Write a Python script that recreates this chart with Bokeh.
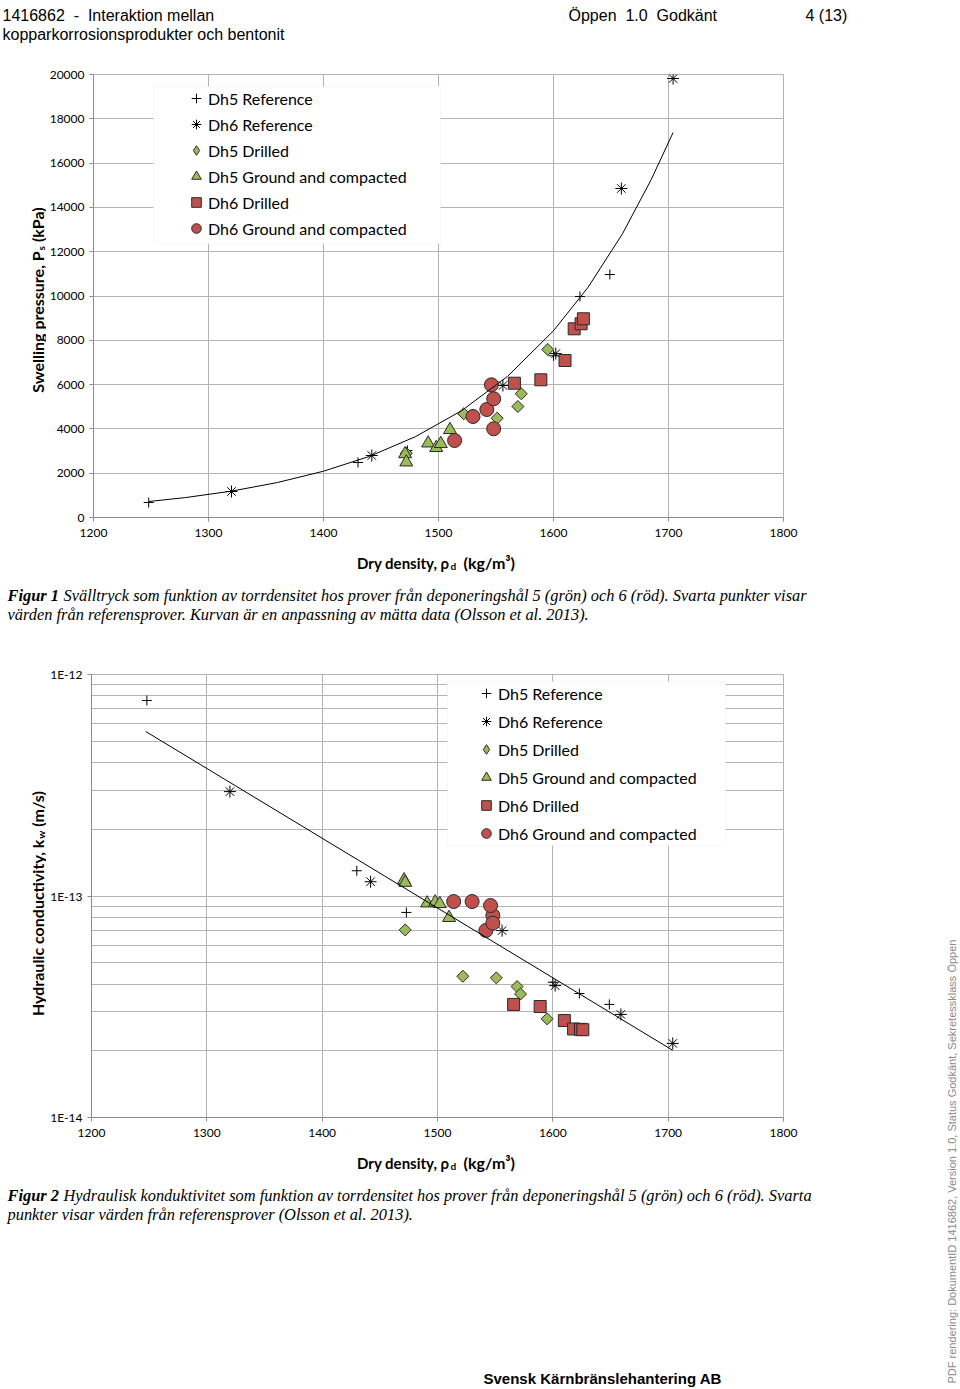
import math
from bokeh.plotting import figure
from bokeh.models import (Range1d, FixedTicker, Label, Legend, LegendItem,
                          BoxAnnotation, CustomJSTickFormatter)
from bokeh.layouts import column, row
from bokeh.embed import file_html
from bokeh.resources import INLINE

# ---------------- data ----------------
x_ticks = [1200, 1300, 1400, 1500, 1600, 1700, 1800]
ps_ticks = [0, 2000, 4000, 6000, 8000, 10000, 12000, 14000, 16000, 18000, 20000]
k_major_ticks = [1e-14, 1e-13, 1e-12]
k_minor_ticks = [2e-14, 3e-14, 4e-14, 5e-14, 6e-14, 7e-14, 8e-14, 9e-14,
                 2e-13, 3e-13, 4e-13, 5e-13, 6e-13, 7e-13, 8e-13, 9e-13]

series_names = ["Dh5 Reference", "Dh6 Reference", "Dh5 Drilled",
                "Dh5 Ground and compacted", "Dh6 Drilled", "Dh6 Ground and compacted"]

dh5_ref_x = [1248, 1430, 1473, 1600, 1623, 1649]
dh5_ref_ps = [677, 2483, 3025, 7300, 9977, 10970]
dh5_ref_k = [7.63e-13, 1.30e-13, 8.43e-14, 4.08e-14, 3.63e-14, 3.24e-14]

dh6_ref_x = [1320, 1442, 1556, 1602, 1659, 1704]
dh6_ref_ps = [1174, 2799, 5959, 7400, 14853, 19819]
dh6_ref_k = [2.96e-13, 1.16e-13, 6.98e-14, 3.94e-14, 2.92e-14, 2.16e-14]

dh5_drilled_x = [1472, 1522, 1551, 1569, 1572, 1595]
dh5_drilled_ps = [2900, 4682, 4483, 5011, 5585, 7585]
dh5_drilled_k = [7.03e-14, 4.34e-14, 4.27e-14, 3.90e-14, 3.61e-14, 2.79e-14]

dh5_gc_x = [1471, 1472, 1491, 1498, 1502, 1510]
dh5_gc_ps = [2867, 2497, 3354, 3147, 3327, 3959]
dh5_gc_k = [1.18e-13, 1.15e-13, 9.28e-14, 9.38e-14, 9.22e-14, 7.98e-14]

dh6_drilled_x = [1566, 1589, 1610, 1618, 1624, 1626]
dh6_drilled_ps = [6063, 6217, 7088, 8519, 8745, 8971]
dh6_drilled_k = [3.24e-14, 3.17e-14, 2.74e-14, 2.51e-14, 2.50e-14, 2.49e-14]

dh6_gc_x = [1514, 1530, 1542, 1548, 1548, 1546]
dh6_gc_ps = [3476, 4560, 4876, 4005, 5359, 5991]
dh6_gc_k = [9.44e-14, 9.44e-14, 6.99e-14, 8.17e-14, 7.54e-14, 9.06e-14]

ps_fit_x = [1248, 1280, 1320, 1360, 1400, 1440, 1480, 1520, 1560, 1600, 1630, 1660, 1685, 1704]
ps_fit = [722, 900, 1190, 1580, 2090, 2760, 3650, 4820, 6370, 8430, 10390, 12810, 15260, 17380]

k_fit_x = [1247, 1704]
k_fit = [5.53e-13, 2.01e-14]

# ---------------- styling ----------------
GRID = "#b4b4b4"
AXIS = "#8c8c8c"
GREEN = "#9BBB59"
RED = "#C0504D"
EDGE = "#2a2a2a"
CAL = "Lato"
LW = 930          # width of the main column
YLW = 46          # width of the y-label strips
NB = "\u00a0"


def text_fig(x0, x1, y0, y1):
    p = figure(width=x1 - x0, height=y1 - y0, output_backend="svg", toolbar_location=None,
               x_range=Range1d(x0, x1), y_range=Range1d(y1, y0), min_border=0,
               x_axis_location=None, y_axis_location=None)
    p.xgrid.visible = False
    p.ygrid.visible = False
    p.outline_line_color = None
    p.background_fill_color = "white"
    p.border_fill_color = "white"
    return p


def put(p, x, y, text, **kw):
    p.add_layout(Label(x=x, y=y, text=text, **kw))


def style(p):
    p.background_fill_color = "white"
    p.border_fill_color = "white"
    p.outline_line_color = GRID
    p.xgrid.grid_line_color = GRID
    p.ygrid.grid_line_color = GRID
    for ax in (p.xaxis, p.yaxis):
        ax.axis_line_color = AXIS
        ax.major_tick_line_color = AXIS
        ax.major_tick_out = 4
        ax.major_tick_in = 0
        ax.minor_tick_line_color = None
        ax.major_label_text_font = CAL
        ax.major_label_text_font_size = "12px"
        ax.major_label_text_color = "#000000"
    p.xaxis.major_label_standoff = 7
    p.yaxis.major_label_standoff = 5


def add_series(p, ys):
    rs = []
    rs.append(p.scatter(dh5_ref_x, ys[0], marker="cross", size=10,
                        line_color="black", line_width=1))
    rs.append(p.scatter(dh6_ref_x, ys[1], marker="asterisk", size=12,
                        line_color="black", line_width=1))
    # key proxy for the legend: an upright diamond hidden under the first data diamond
    rs.append(p.scatter(dh5_drilled_x[:1], ys[2][:1], marker="diamond", size=8,
                        fill_color=GREEN, line_color=EDGE, line_width=1))
    p.scatter(dh5_drilled_x, ys[2], marker="square", angle=math.pi / 4, size=8.5,
              fill_color=GREEN, line_color=EDGE, line_width=1)
    rs.append(p.scatter(dh5_gc_x, ys[3], marker="triangle", size=13,
                        fill_color=GREEN, line_color=EDGE, line_width=1))
    rs.append(p.scatter(dh6_drilled_x, ys[4], marker="square", size=12,
                        fill_color=RED, line_color=EDGE, line_width=1))
    rs.append(p.scatter(dh6_gc_x, ys[5], marker="circle", size=14,
                        fill_color=RED, line_color=EDGE, line_width=1))
    return rs


def add_legend(p, rs, loc, gw, gh):
    items = [LegendItem(label=n, renderers=[r]) for n, r in zip(series_names, rs)]
    lg = Legend(items=items, location=loc, glyph_width=gw, glyph_height=gh,
                label_height=gh, spacing=0, padding=0, margin=0, label_standoff=0,
                label_text_font=CAL, label_text_font_size="16px",
                label_text_color="#000000",
                background_fill_alpha=0, border_line_alpha=0)
    p.add_layout(lg)


def chart(top, bottom, frame_left, frame_top, frame_bottom, y_range, log=False):
    kw = dict(y_axis_type="log") if log else {}
    p = figure(width=LW - YLW, height=bottom - top, output_backend="svg",
               toolbar_location=None, x_range=Range1d(1200, 1800), y_range=y_range,
               min_border_left=frame_left - YLW, min_border_right=LW - 783,
               min_border_top=frame_top - top, min_border_bottom=bottom - frame_bottom, **kw)
    style(p)
    p.xaxis.ticker = FixedTicker(ticks=x_ticks)
    return p


# ---------------- header ----------------
head = text_fig(0, LW, 0, 64)
hdr = dict(text_font="Liberation Sans", text_font_size="16px", text_color="#000000",
           text_baseline="alphabetic")
put(head, 2, 15, "1416862 " + NB + "-" + NB + " Interaktion mellan", **hdr)
put(head, 2, 34, "kopparkorrosionsprodukter och bentonit", **hdr)
put(head, 568, 15, "Öppen" + NB + " 1.0" + NB + " Godkänt", **hdr)
put(head, 805, 15, "4 (13)", **hdr)

axl = dict(text_font=CAL, text_font_style="bold", text_color="#000000",
           text_baseline="alphabetic")
vax = dict(angle=math.pi / 2, **axl)

# ---------------- chart 1 ----------------
F1L, F1B = 93, 517
p1 = chart(64, 545, F1L, 74, F1B, Range1d(0, 20000))
p1.yaxis.ticker = FixedTicker(ticks=ps_ticks)
p1.add_layout(BoxAnnotation(left=153 - F1L, right=440 - F1L, top=F1B - 86, bottom=F1B - 243,
                            left_units="screen", right_units="screen",
                            top_units="screen", bottom_units="screen",
                            fill_color="white", fill_alpha=1.0,
                            line_color="#e6e6e6", line_width=1))
rs1 = add_series(p1, [dh5_ref_ps, dh6_ref_ps, dh5_drilled_ps, dh5_gc_ps,
                      dh6_drilled_ps, dh6_gc_ps])
p1.line(ps_fit_x, ps_fit, line_color="black", line_width=1)
add_legend(p1, rs1, (184 - F1L, F1B - 241), 24, 26)

yl1 = text_fig(0, YLW, 64, 545)
put(yl1, 37, 256, "Swelling pressure, P", text_align="right", text_font_size="16px", **vax)
put(yl1, 40, 255, "s", text_align="left", text_font_size="10px", **vax)
put(yl1, 37, 246, "(kPa)", text_align="left", text_font_size="16px", **vax)

# ---------------- middle (x label 1 + caption 1) ----------------
mid = text_fig(0, LW, 545, 660)
put(mid, 449, 562, "Dry density, ρ", text_align="right", text_font_size="15px", **axl)
put(mid, 450, 565, "d", text_align="left", text_font_size="10px", **axl)
put(mid, 463, 562, "(kg/m³)", text_align="left", text_font_size="16px", **axl)
cap = dict(text_font="Liberation Serif", text_font_size="16.4px", text_color="#000000",
           text_baseline="alphabetic")
put(mid, 7, 595, "Figur 1", text_font_style="bold italic", **cap)
put(mid, 63, 595, "Svälltryck som funktion av torrdensitet hos prover från deponeringshål 5 "
    "(grön) och 6 (röd). Svarta punkter visar", text_font_style="italic", **cap)
put(mid, 7, 614, "värden från referensprover. Kurvan är en anpassning av mätta data "
    "(Olsson et al. 2013).", text_font_style="italic", **cap)

# ---------------- chart 2 ----------------
F2L, F2B = 91, 1117
p2 = chart(660, 1143, F2L, 674, F2B, Range1d(1e-14, 1e-12), log=True)
p2.yaxis.ticker = FixedTicker(ticks=k_major_ticks, minor_ticks=k_minor_ticks)
p2.yaxis.formatter = CustomJSTickFormatter(code="return '1E' + Math.round(Math.log10(tick));")
p2.ygrid.minor_grid_line_color = GRID
p2.add_layout(BoxAnnotation(left=447 - F2L, right=725 - F2L, top=F2B - 681, bottom=F2B - 845,
                            left_units="screen", right_units="screen",
                            top_units="screen", bottom_units="screen",
                            fill_color="white", fill_alpha=1.0,
                            line_color="#e6e6e6", line_width=1))
rs2 = add_series(p2, [dh5_ref_k, dh6_ref_k, dh5_drilled_k, dh5_gc_k,
                      dh6_drilled_k, dh6_gc_k])
p2.line(k_fit_x, k_fit, line_color="black", line_width=1)
add_legend(p2, rs2, (474 - F2L, F2B - 847), 24, 28)

yl2 = text_fig(0, YLW, 660, 1143)
put(yl2, 37, 840, "Hydraulic conductivity, k", text_align="right", text_font_size="16px", **vax)
put(yl2, 40, 839, "w", text_align="left", text_font_size="10px", **vax)
put(yl2, 37, 826, "(m/s)", text_align="left", text_font_size="16px", **vax)

# ---------------- bottom (x label 2, caption 2, footer) ----------------
bot = text_fig(0, LW, 1143, 1387)
put(bot, 449, 1162, "Dry density, ρ", text_align="right", text_font_size="15px", **axl)
put(bot, 450, 1165, "d", text_align="left", text_font_size="10px", **axl)
put(bot, 463, 1162, "(kg/m³)", text_align="left", text_font_size="16px", **axl)
put(bot, 7, 1195, "Figur 2", text_font_style="bold italic", **cap)
put(bot, 63, 1195, "Hydraulisk konduktivitet som funktion av torrdensitet hos prover från "
    "deponeringshål 5 (grön) och 6 (röd). Svarta", text_font_style="italic", **cap)
put(bot, 7, 1214, "punkter visar värden från referensprover (Olsson et al. 2013).",
    text_font_style="italic", **cap)
put(bot, 483, 1378, "Svensk Kärnbränslehantering AB", text_font="Liberation Sans",
    text_font_style="bold", text_font_size="15px", text_color="#000000",
    text_baseline="alphabetic")

# ---------------- right margin (vertical note) ----------------
side = text_fig(LW, 960, 0, 1387)
put(side, 951, 1383, "PDF rendering: DokumentID 1416862, Version 1.0, Status Godkänt, "
    "Sekretessklass Öppen", angle=math.pi / 2, text_align="left",
    text_baseline="middle", text_font="Liberation Sans", text_font_size="11px",
    text_color="#8a8a8a")

layout = row(
    column(head, row(yl1, p1, spacing=0), mid, row(yl2, p2, spacing=0), bot, spacing=0),
    side, spacing=0)
open("out.html", "w").write(file_html(layout, INLINE))
